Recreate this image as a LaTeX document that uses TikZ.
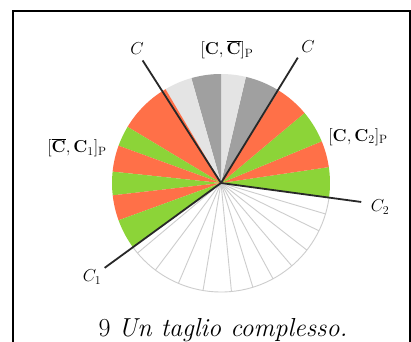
\documentclass[tikz,border=0pt]{standalone}
\definecolor{org}{RGB}{255,112,72}
\definecolor{grn}{RGB}{140,212,56}
\definecolor{lgr}{RGB}{228,228,228}
\definecolor{dgr}{RGB}{160,160,160}
\definecolor{wln}{RGB}{205,205,205}
\tikzset{
  wline/.style={draw=wln, line width=0.9pt},
  cutline/.style={draw={rgb,255:red,40;green,40;blue,40}, line width=1.8pt},
  lab/.style={inner sep=1pt, font=\fontsize{17}{19}\selectfont},
  capt/.style={inner sep=0pt, anchor=base, font=\fontsize{26}{30}\selectfont}
}
\begin{document}
\begin{tikzpicture}[x=1pt,y=1pt]
\useasboundingbox (0,0) rectangle (411,341);
\fill[white] (0,0) rectangle (411,341);
\draw[line width=2pt] (13,-10) -- (13,330) -- (410,330) -- (410,-10);
\coordinate (O) at (221,158);
\def\R{109}
\foreach \a/\b/\c in {-7.7/8.4/grn, 8.4/22.5/org, 22.5/40/grn, 40/58/org, 58/76.8/dgr, 76.8/90/lgr, 90/105.8/dgr, 105.8/120.6/lgr, 120.6/149/org, 149/160/grn, 160/174/org, 174/186.5/grn, 186.5/200/org, 200/216/grn}
  \fill[\c] (O) -- ++(\a:\R) arc[start angle=\a, end angle=\b, radius=\R] -- cycle;
\foreach \a in {220,233,247,260.5,275.5,287,298.5,310.5,322,334,343.5}
  \draw[wline] (O) -- ++(\a:\R);
\draw[wline] (O) ++(216:\R) arc[start angle=216, end angle=352.3, radius=\R];
\path (O) ++(122.6:145.5) coordinate (cL);
\path (O) ++(58.5:147) coordinate (cR);
\path (O) ++(-7.7:141.5) coordinate (c2);
\path (O) ++(216.1:144) coordinate (c1);
\draw[cutline] (O) -- (cL);
\draw[cutline] (O) -- (cR);
\draw[cutline] (O) -- (c2);
\draw[cutline] (O) -- (c1);
\node[lab] (lC) at (137,292) {$C$};
\node[lab] (rC) at (308,294) {$C$};
\node[lab] (top) at (227,291) {$[\mathbf{C},\overline{\mathbf{C}}]_{\mathrm{P}}$};
\node[lab] (left) at (77,193) {$[\overline{\mathbf{C}},\mathbf{C}_1]_{\mathrm{P}}$};
\node[lab] (right) at (358,204) {$[\mathbf{C},\mathbf{C}_2]_{\mathrm{P}}$};
\node[lab] (l1) at (92,64) {$C_1$};
\node[lab] (l2) at (380,134) {$C_2$};
\node[capt] (cap) at (223,5) {9 \textit{Un taglio complesso.}};
\end{tikzpicture}
\end{document}
